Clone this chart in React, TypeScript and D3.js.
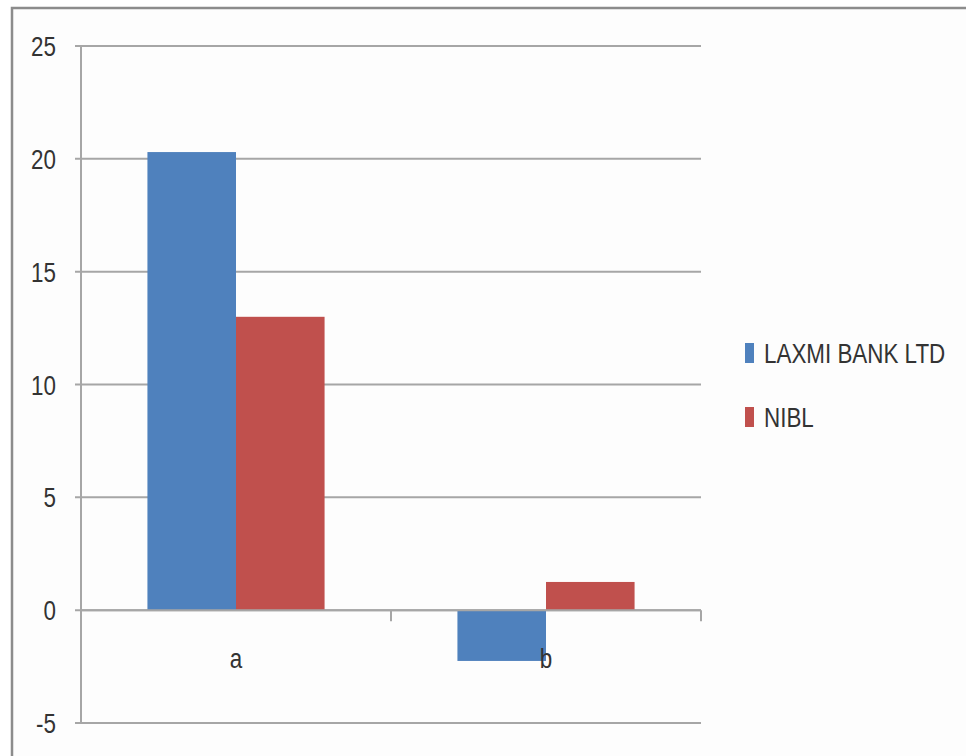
import React from "react";
import * as d3 from "d3";

// Chart data
const categories = ["a", "b"];
const seriesNames = ["LAXMI BANK LTD", "NIBL"];
const laxmiValues = [20.3, -2.25];
const niblValues = [13.0, 1.25];
const yTicks = [-5, 0, 5, 10, 15, 20, 25];
const seriesColors = ["#4F81BD", "#C0504D"];

const W = 966;
const H = 756;
const plot = { left: 81, right: 701, top: 46, bottom: 723 };
const FONT = "'Liberation Sans', Arial, sans-serif";
const SX = 0.8; // horizontal condensing for the narrow label face

export default function App() {
  const y = d3.scaleLinear().domain([-5, 25]).range([plot.bottom, plot.top]);
  const x0 = d3
    .scaleBand<string>()
    .domain(categories)
    .range([plot.left, plot.right])
    .paddingInner(0)
    .paddingOuter(0);
  const groupWidth = x0.bandwidth() * (2 / 3.5);
  const x1 = d3
    .scaleBand<string>()
    .domain(seriesNames)
    .range([0, groupWidth])
    .padding(0);

  const series = [laxmiValues, niblValues];
  const zeroY = y(0);
  const gridColor = "#a6a6a6";

  const condensed = (cx: number, cy: number, text: string, anchor: string, size: number, key?: string) => (
    <text
      key={key}
      transform={`translate(${cx},${cy}) scale(${SX},1)`}
      textAnchor={anchor}
      fontFamily={FONT}
      fontSize={size}
      fill="#333"
    >
      {text}
    </text>
  );

  return (
    <svg
      width={W}
      height={H}
      style={{ position: "fixed", left: 0, top: 0, background: "#fff" }}
    >
      <rect x={0} y={0} width={W} height={H} fill="#fff" />
      {/* outer chart frame */}
      <rect x={12} y={8} width={W + 20} height={H + 20} fill="#fdfdfd" stroke="#8c8c8c" strokeWidth={2.5} />

      {/* horizontal gridlines and y tick marks */}
      {yTicks.map((t) => (
        <line
          key={`g${t}`}
          x1={plot.left - 6}
          x2={plot.right}
          y1={y(t)}
          y2={y(t)}
          stroke={gridColor}
          strokeWidth={2}
        />
      ))}
      {/* value axis */}
      <line x1={plot.left} x2={plot.left} y1={plot.top} y2={plot.bottom} stroke={gridColor} strokeWidth={2} />

      {/* bars */}
      {categories.map((c, ci) =>
        series.map((vals, si) => {
          const v = vals[ci];
          const bx = (x0(c) as number) + (x0.bandwidth() - groupWidth) / 2 + (x1(seriesNames[si]) as number);
          return (
            <rect
              key={`b${ci}-${si}`}
              x={bx}
              y={Math.min(y(v), zeroY)}
              width={x1.bandwidth()}
              height={Math.abs(y(v) - zeroY)}
              fill={seriesColors[si]}
            />
          );
        })
      )}

      {/* category axis at zero with boundary ticks */}
      <line x1={plot.left} x2={plot.right} y1={zeroY} y2={zeroY} stroke={gridColor} strokeWidth={2} />
      {[...categories.map((c) => x0(c) as number), plot.right].map((tx, i) => (
        <line key={`t${i}`} x1={tx} x2={tx} y1={zeroY} y2={zeroY + 11} stroke={gridColor} strokeWidth={2} />
      ))}

      {/* y tick labels */}
      {yTicks.map((t) => condensed(56, y(t) + 10, String(t), "end", 28, `l${t}`))}

      {/* category labels */}
      {categories.map((c) =>
        condensed((x0(c) as number) + x0.bandwidth() / 2, 668, c, "middle", 28, `c${c}`)
      )}

      {/* legend */}
      {seriesNames.map((name, i) => (
        <g key={`lg${i}`}>
          <rect x={745} y={343 + i * 64} width={9} height={20} fill={seriesColors[i]} />
          {condensed(764, 363 + i * 64, name, "start", 28)}
        </g>
      ))}
    </svg>
  );
}
